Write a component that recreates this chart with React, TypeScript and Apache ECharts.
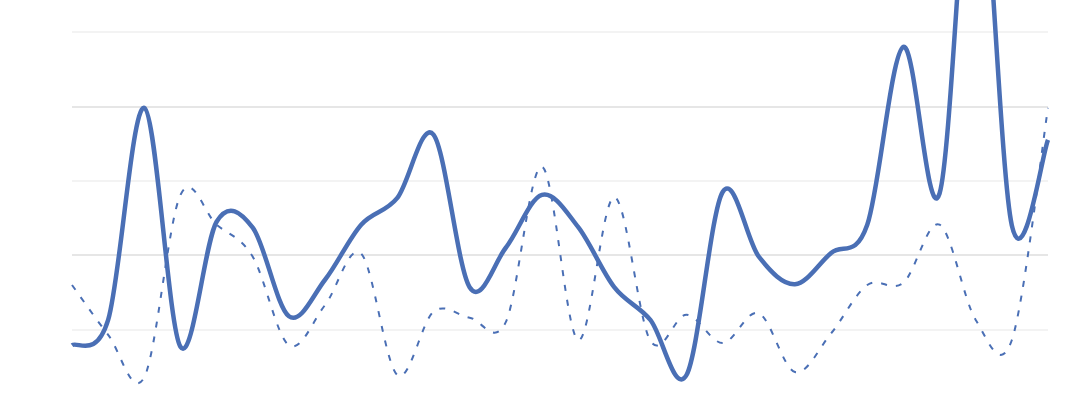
import { useEffect, useRef } from 'react'
import * as echarts from 'echarts'

const categories = Array.from({ length: 28 }, (_, i) => String(i + 1))

const solidSeries = [
  7.9, 11.3, 39.8, 7.7, 24.5, 23.7, 11.8, 16.7, 24.1, 27.7, 36.2, 15.7, 21.0, 28.1,
  23.8, 15.7, 11.3, 3.9, 28.5, 19.8, 16.1, 20.3, 24.1, 48.0, 28.3, 78.5, 24.0, 35.5,
]

const dashedSeries = [
  16.0, 9.3, 3.6, 28.1, 24.1, 19.8, 7.9, 13.3, 20.2, 3.9, 12.4, 11.6, 11.0, 31.9,
  8.6, 27.8, 8.5, 12.0, 8.2, 12.2, 4.3, 9.5, 16.0, 16.3, 24.1, 11.3, 8.6, 39.8,
]

const LINE_COLOR = '#4a6fb5'

// catmull-rom through every point, 1/6 handles
echarts.graphic.registerShape(
  'smoothCurve',
  echarts.graphic.extendShape({
    shape: { points: [] as number[][] },
    buildPath(ctx: any, shape: any) {
      const pts: number[][] = shape.points
      if (!pts || pts.length < 2) return
      ctx.moveTo(pts[0][0], pts[0][1])
      for (let i = 0; i < pts.length - 1; i++) {
        const p0 = pts[i > 0 ? i - 1 : i]
        const p1 = pts[i]
        const p2 = pts[i + 1]
        const p3 = pts[i + 2 < pts.length ? i + 2 : i + 1]
        ctx.bezierCurveTo(
          p1[0] + (p2[0] - p0[0]) / 6,
          p1[1] + (p2[1] - p0[1]) / 6,
          p2[0] - (p3[0] - p1[0]) / 6,
          p2[1] - (p3[1] - p1[1]) / 6,
          p2[0],
          p2[1],
        )
      }
    },
  }),
)

function curveSeries(values: number[], width: number, dash?: number[]) {
  return {
    type: 'custom',
    coordinateSystem: 'cartesian2d',
    data: values.map((v, i) => [i, v]),
    encode: { x: 0, y: 1 },
    clip: false,
    silent: true,
    renderItem: (params: any, api: any) => {
      if (params.dataIndex !== 0) return null
      const points = values.map((v, i) => api.coord([i, v]))
      return {
        type: 'smoothCurve',
        shape: { points },
        style: {
          fill: 'none',
          stroke: LINE_COLOR,
          lineWidth: width,
          lineDash: dash,
          lineCap: 'butt',
          lineJoin: 'round',
        },
      }
    },
  }
}

export default function App() {
  const chartRef = useRef<HTMLDivElement>(null)

  useEffect(() => {
    if (!chartRef.current) return
    const chart = echarts.init(chartRef.current, undefined, { renderer: 'svg' })

    chart.setOption({
      animation: false,
      grid: { left: 72, right: 42, top: 32, bottom: 6 },
      xAxis: {
        type: 'category',
        data: categories,
        boundaryGap: false,
        axisLine: { show: false },
        axisTick: { show: false },
        axisLabel: { show: false },
      },
      yAxis: {
        type: 'value',
        min: 0,
        max: 50,
        interval: 10,
        axisLine: { show: false },
        axisTick: { show: false },
        axisLabel: { show: false },
        splitLine: {
          show: true,
          lineStyle: { color: ['#e6e6e6', '#f3f3f3'], width: 2 },
        },
      },
      series: [curveSeries(dashedSeries, 2, [6, 9]), curveSeries(solidSeries, 4.5)],
    })

    return () => chart.dispose()
  }, [])

  return (
    <div
      style={{ position: 'fixed', left: 0, top: 0, width: 1090, height: 400, overflow: 'hidden', background: '#fff' }}
    >
      <div ref={chartRef} style={{ width: 1090, height: 410 }} />
    </div>
  )
}
